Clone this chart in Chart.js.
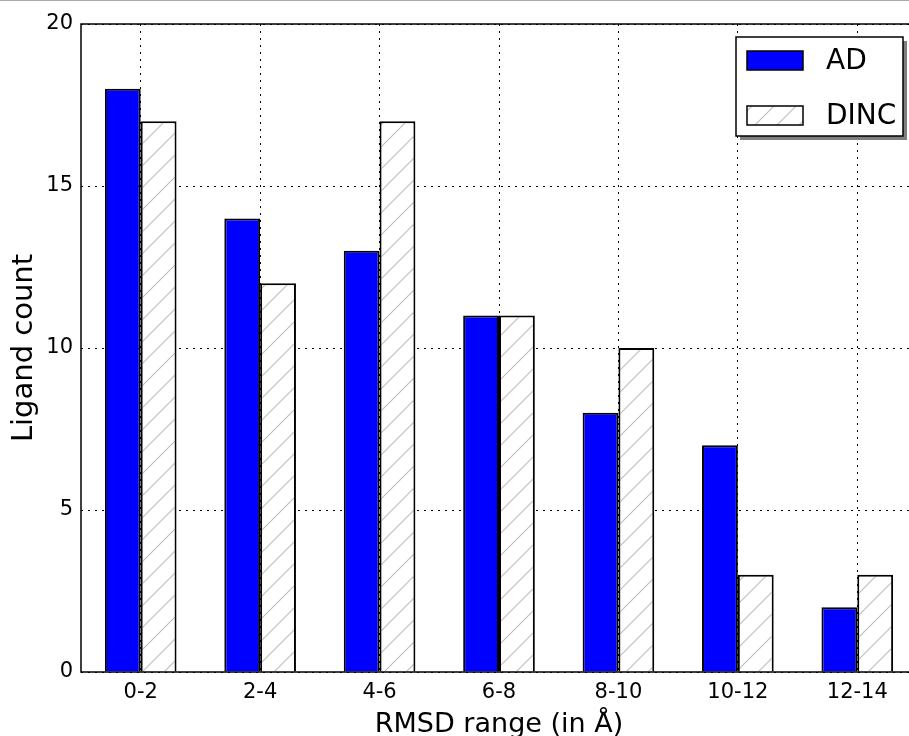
<!DOCTYPE html>
<html>
<head>
<meta charset="utf-8">
<script src="https://cdn.jsdelivr.net/npm/chart.js@4/dist/chart.umd.min.js"></script>
<style>
  html, body { margin: 0; padding: 0; background: #fff; overflow: hidden; }
  #wrap { width: 909px; height: 736px; overflow: hidden; position: relative; border-top: 1px solid #aaa; box-sizing: border-box; }
  #chart { position: absolute; left: 0; top: -1px; }
</style>
</head>
<body>
<div id="wrap"><canvas id="chart" width="925" height="741"></canvas></div>
<script>
// data
const categories = ["0-2", "2-4", "4-6", "6-8", "8-10", "10-12", "12-14"];
const adCounts   = [18, 14, 13, 11, 8, 7, 2];
const dincCounts = [17, 12, 17, 11, 10, 3, 3];
const yTicks     = [0, 5, 10, 15, 20];

const FONT = "'DejaVu Sans', sans-serif";

// hatch pattern for DINC (light grey "/" lines)
function makeHatch() {
    const s = 22;
    const c = document.createElement('canvas');
    c.width = s; c.height = s;
    const g = c.getContext('2d');
    g.fillStyle = '#fff';
    g.fillRect(0, 0, s, s);
    g.strokeStyle = '#bdbdbd';
    g.lineWidth = 1.1;
    g.beginPath();
    g.moveTo(0, s); g.lineTo(s, 0);
    g.moveTo(-2, 2); g.lineTo(2, -2);
    g.moveTo(s - 2, s + 2); g.lineTo(s + 2, s - 2);
    g.stroke();
    return g.createPattern(c, 'repeat');
}
const hatch = makeHatch();

// frame around plot area (top border too)
const framePlugin = {
    id: 'frame',
    afterDatasetsDraw(chart) {
        const a = chart.chartArea, ctx = chart.ctx;
        ctx.save();
        ctx.strokeStyle = '#000';
        ctx.lineWidth = 1.5;
        ctx.strokeRect(a.left, a.top, a.right - a.left, a.bottom - a.top);
        ctx.restore();
    }
};

// matplotlib-like legend box with shadow
const legendBox = {
    id: 'legendBox',
    afterDraw(chart) {
        const ctx = chart.ctx;
        const x = 736, y = 37, w = 167, h = 99;
        ctx.save();
        ctx.fillStyle = '#7f7f7f';
        ctx.fillRect(x + 4, y + 4, w, h);
        ctx.fillStyle = '#fff';
        ctx.fillRect(x, y, w, h);
        ctx.strokeStyle = '#000';
        ctx.lineWidth = 1.5;
        ctx.strokeRect(x, y, w, h);
        chart.data.datasets.forEach((ds, i) => {
            const sy = y + 14 + i * 55;
            ctx.fillStyle = ds.backgroundColor;
            ctx.fillRect(x + 11, sy, 56, 19);
            ctx.strokeStyle = '#000';
            ctx.lineWidth = 1.5;
            ctx.strokeRect(x + 11, sy, 56, 19);
            ctx.fillStyle = '#000';
            ctx.font = '28px ' + FONT;
            ctx.textBaseline = 'middle';
            ctx.fillText(ds.label, x + 90, sy + 11);
        });
        ctx.restore();
    }
};

const ctx = document.getElementById('chart').getContext('2d');
new Chart(ctx, {
    type: 'bar',
    data: {
        labels: categories,
        datasets: [
            { label: 'AD', data: adCounts, backgroundColor: '#0000ff', borderColor: '#000', borderWidth: 2 },
            { label: 'DINC', data: dincCounts, backgroundColor: hatch, borderColor: '#000', borderWidth: 2 }
        ]
    },
    options: {
        responsive: false,
        animation: false,
        layout: { padding: { left: 0, right: 8, top: 24, bottom: 0 } },
        datasets: { bar: { categoryPercentage: 0.6, barPercentage: 1.0 } },
        plugins: { legend: { display: false }, tooltip: { enabled: false } },
        scales: {
            x: {
                grid: { offset: false, color: '#000', lineWidth: 1, drawTicks: false },
                border: { display: false, dash: [2, 5] },
                ticks: { color: '#000', font: { family: FONT, size: 21 }, padding: 8 },
                title: { display: true, text: 'RMSD range (in Å)', color: '#000', font: { family: FONT, size: 27 }, padding: { top: 0, bottom: 0 } },
                afterFit(s) { s.height = 69; }
            },
            y: {
                min: 0, max: 20,
                afterBuildTicks(s) { s.ticks = yTicks.map(v => ({ value: v })); },
                grid: { color: '#000', lineWidth: 1, drawTicks: false },
                border: { display: false, dash: [2, 5] },
                ticks: { color: '#000', font: { family: FONT, size: 21 }, padding: 8 },
                title: { display: true, text: 'Ligand count', color: '#000', font: { family: FONT, size: 29 }, padding: { top: 7, bottom: 0 } },
                afterFit(s) { s.width = 81; }
            }
        }
    },
    plugins: [framePlugin, legendBox]
});
</script>
</body>
</html>
